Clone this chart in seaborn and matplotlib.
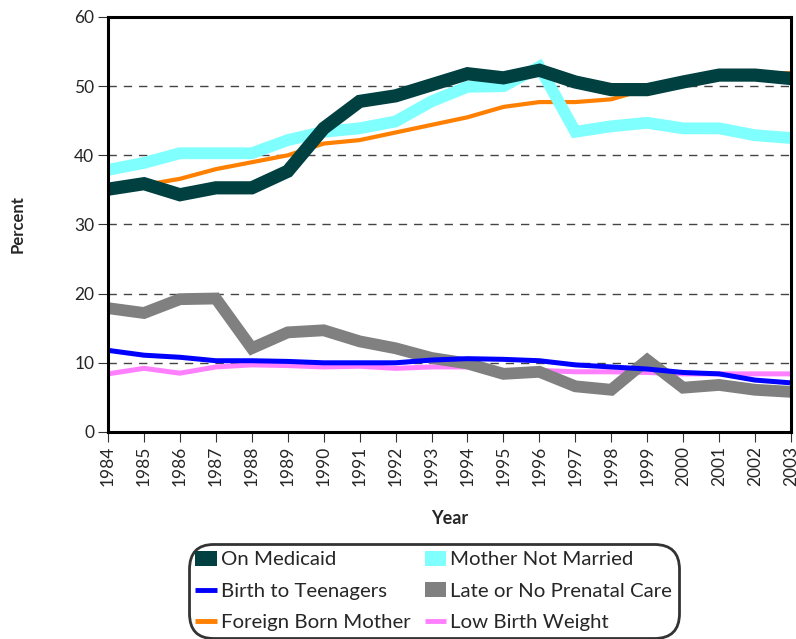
import numpy as np
import pandas as pd
import seaborn as sns
import matplotlib.pyplot as plt
from matplotlib.lines import Line2D
from matplotlib.patches import Patch

# Data
years = list(range(1984, 2004))
on_medicaid = [35.1, 35.9, 34.3, 35.3, 35.3, 37.7, 43.9, 47.8, 48.6, 50.2,
               51.8, 51.2, 52.3, 50.6, 49.5, 49.5, 50.6, 51.6, 51.6, 51.1]
not_married = [37.9, 38.9, 40.3, 40.3, 40.3, 42.2, 43.4, 43.9, 44.9, 47.8,
               49.9, 50.0, 52.8, 43.4, 44.2, 44.7, 43.9, 43.9, 42.9, 42.5]
foreign_born = [35.3, 35.7, 36.6, 38.0, 39.0, 40.0, 41.7, 42.2, 43.3, 44.4,
                45.5, 47.0, 47.7, 47.7, 48.1, 49.6, 50.6, 51.6, 51.7, 51.9]
teen_birth = [11.8, 11.1, 10.8, 10.3, 10.3, 10.2, 10.0, 10.0, 10.0, 10.4,
              10.6, 10.5, 10.3, 9.7, 9.4, 9.1, 8.6, 8.4, 7.5, 7.1]
late_care = [17.9, 17.2, 19.2, 19.3, 12.1, 14.4, 14.7, 13.1, 12.1, 10.7,
             9.9, 8.4, 8.7, 6.6, 6.1, 10.4, 6.4, 6.8, 6.1, 5.8]
low_weight = [8.4, 9.2, 8.5, 9.4, 9.7, 9.6, 9.4, 9.5, 9.2, 9.4,
              9.4, 8.9, 8.9, 8.7, 8.7, 8.6, 8.4, 8.4, 8.4, 8.4]

series = {
    'On Medicaid': on_medicaid,
    'Birth to Teenagers': teen_birth,
    'Foreign Born Mother': foreign_born,
    'Mother Not Married': not_married,
    'Late or No Prenatal Care': late_care,
    'Low Birth Weight': low_weight,
}
colors = {
    'On Medicaid': '#004040',
    'Birth to Teenagers': '#0000FF',
    'Foreign Born Mother': '#FF8000',
    'Mother Not Married': '#80FFFF',
    'Late or No Prenatal Care': '#808080',
    'Low Birth Weight': '#FF80FF',
}
widths = {
    'On Medicaid': 9.5,
    'Birth to Teenagers': 3.6,
    'Foreign Born Mother': 3.0,
    'Mother Not Married': 8.5,
    'Late or No Prenatal Care': 8.5,
    'Low Birth Weight': 3.6,
}
zorders = {
    'Low Birth Weight': 2, 'Late or No Prenatal Care': 3, 'Birth to Teenagers': 4,
    'Foreign Born Mother': 5, 'Mother Not Married': 6, 'On Medicaid': 7,
}

df = pd.DataFrame([(y, name, v) for name, vals in series.items() for y, v in zip(years, vals)],
                  columns=['Year', 'Series', 'Percent'])

sns.set_style('white')
plt.rcParams['font.family'] = ['Lato', 'DejaVu Sans']

fig = plt.figure(figsize=(7.96, 6.39), dpi=100)
ax = fig.add_axes([0.1357, 0.324, 0.858, 0.6494])

for name in series:
    sns.lineplot(data=df[df['Series'] == name], x='Year', y='Percent', ax=ax,
                 color=colors[name], linewidth=widths[name], zorder=zorders[name],
                 solid_joinstyle='miter', solid_capstyle='butt', legend=False)

ax.set_xlim(1984, 2003)
ax.set_ylim(0, 60)
ax.set_yticks(range(0, 61, 10))
ax.set_xticks(years)
ax.set_xticklabels([str(y) for y in years], rotation=90, fontsize=12.5)
ax.tick_params(axis='y', labelsize=12.5)
ax.tick_params(axis='both', direction='out', length=7, width=0.8, color='#333333',
               left=True, bottom=True, pad=3)
ax.yaxis.grid(True, linestyle=(0, (6, 5)), color='#444444', linewidth=1.0)
ax.xaxis.grid(False)
ax.set_axisbelow(True)
for sp in ax.spines.values():
    sp.set_visible(True)
    sp.set_color('black')
    sp.set_linewidth(2.2)
    sp.set_zorder(10)

ax.set_xlabel('Year', fontsize=13, fontweight='bold', labelpad=17)
ax.set_ylabel('Percent', fontsize=12, fontweight='bold', labelpad=35)

handles = []
for n in series:
    if widths[n] > 5:
        handles.append(Patch(facecolor=colors[n], edgecolor='none'))
    else:
        handles.append(Line2D([], [], color=colors[n], linewidth=3.5, solid_capstyle='butt'))
leg = fig.legend(handles, list(series.keys()), ncol=2, loc='lower center',
                 bbox_to_anchor=(0.545, 0.0), fontsize=14.7, frameon=True, fancybox=True,
                 handlelength=1.05, handleheight=0.75, handletextpad=0.2, columnspacing=0.7,
                 labelspacing=0.68, borderpad=0.12, borderaxespad=0.25)
frame = leg.get_frame()
frame.set_edgecolor('black')
frame.set_linewidth(2)
frame.set_boxstyle('round,pad=0.2,rounding_size=1.2')

fig.savefig('out.png', dpi=100)
